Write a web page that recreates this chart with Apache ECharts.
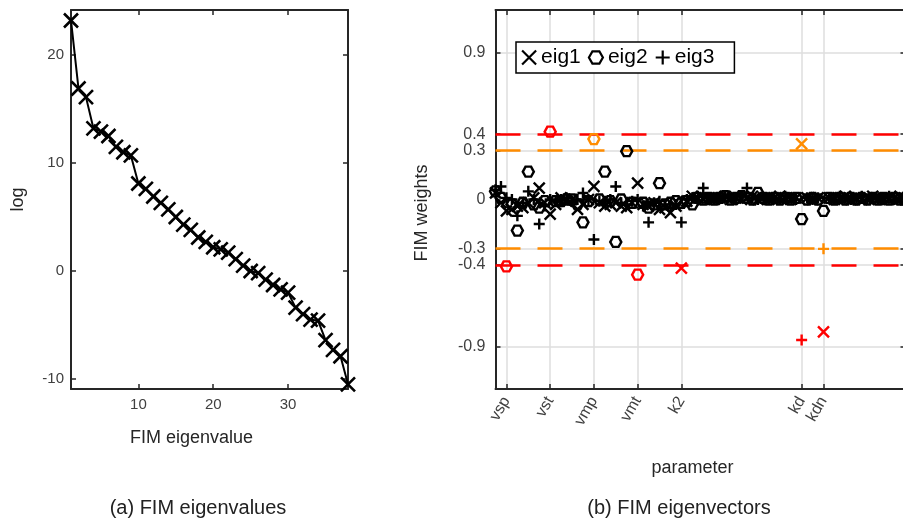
<!DOCTYPE html>
<html><head><meta charset="utf-8">
<script src="https://cdn.jsdelivr.net/npm/echarts@6/dist/echarts.min.js"></script>
<style>html,body{margin:0;padding:0;background:#fff}#c{width:903px;height:523px}</style>
</head><body><div id="c"></div>
<script>
// ---- data ----
const logEigenvalues = [23.2,16.9,16.1,13.2,12.9,12.5,11.5,11.0,10.7,8.1,7.6,6.9,6.3,5.7,5.0,4.3,3.8,3.1,2.7,2.2,2.0,1.7,1.1,0.5,0.0,-0.2,-0.8,-1.3,-1.7,-2.0,-3.4,-4.0,-4.5,-4.6,-6.4,-7.3,-7.9,-10.5];
const leftXTicks = [10,20,30];
const leftYTicks = [-10,0,10,20];

const paramNames = ['vsp','vst','vmp','vmt','k2','kd','kdn'];
const paramTickIdx = [3,11,19,27,35,57,61];
const rightYTicks = [-0.9,-0.4,-0.3,0,0.3,0.4,0.9];
const thresholdLines = [0.4,0.3,-0.3,-0.4];

const eig1 = [0.04,-0.02,-0.07,-0.06,-0.04,-0.05,-0.02,0.01,0.07,-0.02,
  -0.09,-0.03,0.01,-0.01,0.00,-0.06,-0.03,0.00,0.08,-0.02,
  -0.04,-0.03,-0.02,-0.04,-0.05,-0.02,0.10,-0.03,-0.04,-0.02,
  -0.06,-0.05,-0.08,-0.04,-0.42,-0.01,0.02,0.01,0.00,0.01,
  0.00,0.01,0.02,0.00,0.01,0.00,0.01,0.02,0.00,0.01,
  0.00,0.01,0.02,0.01,0.00,0.01,0.34,0.01,0.00,0.01,
  -0.81,0.01,0.00,0.01,0.02,0.00,0.01,0.00,0.01,0.02,
  0.00,0.01,0.00,0.01,0.02,0.00];
const eig2 = [0.05,0.01,-0.41,-0.03,-0.19,-0.02,0.17,-0.03,-0.05,-0.01,
  0.415,-0.01,-0.01,0.00,0.00,-0.03,-0.14,-0.01,0.37,0.00,
  0.17,-0.01,-0.26,0.00,0.296,-0.02,-0.46,-0.02,-0.05,-0.03,
  0.10,-0.03,-0.02,-0.01,-0.02,-0.01,-0.03,0.01,0.00,0.01,
  0.00,0.01,0.02,0.00,0.01,0.02,0.01,0.00,0.04,0.01,
  0.00,0.01,0.00,0.01,0.00,0.01,-0.12,0.00,0.01,0.00,
  -0.07,0.01,0.00,0.01,0.00,0.01,0.00,0.01,0.00,0.01,
  0.00,0.01,0.00,0.01,0.00,0.01];
const eig3 = [0.06,0.08,0.01,0.00,-0.10,-0.02,0.05,0.00,-0.15,-0.04,
  0.00,-0.01,0.00,0.01,-0.01,0.00,0.04,0.00,-0.245,-0.01,
  -0.01,0.00,0.08,-0.02,-0.03,-0.01,0.00,-0.04,-0.14,-0.02,
  -0.01,-0.03,-0.05,-0.03,-0.14,0.00,0.01,0.02,0.07,0.01,
  0.00,0.01,0.02,0.01,0.00,0.02,0.07,0.01,0.00,0.01,
  0.00,0.01,0.00,0.02,0.01,0.00,-0.86,0.01,0.00,0.01,
  -0.302,0.01,0.00,0.02,0.01,0.00,0.01,0.02,0.00,0.01,
  0.00,0.01,0.02,0.00,0.01,-0.03];

// ---- style ----
const FONT = '"Liberation Sans", Arial, Helvetica, sans-serif';
const AX = '#262626', LBL = '#404040', GRIDC = '#dedede', ORANGE = '#ff8c00', RED = '#ff0000';
const crossPath = 'path://M0,0L10,10M10,0L0,10';
const plusPath = 'path://M5,0L5,10M0,5L10,5';
const hexPath = 'path://M0,5L2.5,0.67L7.5,0.67L10,5L7.5,9.33L2.5,9.33Z';
const NONE = 'rgba(0,0,0,0)';

function colorFor(v){ const a = Math.abs(v); return a > 0.4 ? RED : (a > 0.3 ? ORANGE : '#000'); }
function pts(arr){ return arr.map((v,i)=>({value:[i+1, v], itemStyle:{borderColor: colorFor(v)}})); }

const LX = {min:1, max:logEigenvalues.length};
const LY = {min:-10.93, max:24.17};
const RX = {min:1, max:eig1.length};
const RY = {min:-1.16, max:1.16};

const tickCommon = {inside:true, length:5, lineStyle:{color:AX, width:1.5}};
const lineCommon = {show:true, onZero:false, lineStyle:{color:AX, width:2}};

const chart = echarts.init(document.getElementById('c'), null, {renderer:'canvas'});
chart.setOption({
  animation:false,
  backgroundColor:'#fff',
  textStyle:{fontFamily:FONT},
  grid:[
    {left:71, top:10, width:277, height:379, outerBoundsMode:'none'},
    {left:495.5, top:10, width:410, height:379, outerBoundsMode:'none'}
  ],
  legend:{
    data:['eig1','eig2','eig3'], selectedMode:false, orient:'horizontal',
    left:516, top:42, padding:[5,20,5,5], itemGap:7, itemWidth:14, itemHeight:14,
    backgroundColor:'#fff', borderColor:'#000', borderWidth:1.5,
    itemStyle:{borderWidth:2.2},
    textStyle:{fontSize:21, color:'#000', fontFamily:FONT}
  },
  xAxis:[
    {gridIndex:0, type:'value', ...LX, position:'bottom',
      name:'FIM eigenvalue', nameLocation:'middle', nameGap:40,
      nameTextStyle:{fontSize:18, color:AX, padding:[0,36,0,0]},
      axisLine:lineCommon, axisTick:{...tickCommon, customValues:leftXTicks},
      axisLabel:{customValues:leftXTicks, fontSize:15, color:LBL, margin:8},
      splitLine:{show:false}},
    {gridIndex:0, type:'value', ...LX, position:'top',
      axisLine:lineCommon, axisTick:{...tickCommon, customValues:leftXTicks},
      axisLabel:{show:false}, splitLine:{show:false}},
    {gridIndex:1, type:'value', ...RX, position:'bottom',
      name:'parameter', nameLocation:'middle', nameGap:70,
      nameTextStyle:{fontSize:18, color:AX, padding:[0,16,0,0]},
      axisLine:lineCommon, axisTick:{...tickCommon, customValues:paramTickIdx},
      axisLabel:{customValues:paramTickIdx, rotate:60, fontSize:16, color:LBL, margin:9,
        formatter:(v)=>{const k=paramTickIdx.indexOf(v); return k>=0?paramNames[k]:'';}},
      splitLine:{show:true, lineStyle:{color:GRIDC, width:1.5}}},
    {gridIndex:1, type:'value', ...RX, position:'top',
      axisLine:lineCommon, axisTick:{...tickCommon, customValues:paramTickIdx},
      axisLabel:{show:false}, splitLine:{show:false}}
  ],
  yAxis:[
    {gridIndex:0, type:'value', ...LY, position:'left',
      name:'log', nameLocation:'middle', nameGap:44,
      nameTextStyle:{fontSize:18, color:AX},
      axisLine:lineCommon, axisTick:{...tickCommon, customValues:leftYTicks},
      axisLabel:{customValues:leftYTicks, fontSize:15, color:LBL, margin:7},
      splitLine:{show:false}},
    {gridIndex:0, type:'value', ...LY, position:'right',
      axisLine:lineCommon, axisTick:{...tickCommon, customValues:leftYTicks},
      axisLabel:{show:false}, splitLine:{show:false}},
    {gridIndex:1, type:'value', ...RY, position:'left',
      name:'FIM weights', nameLocation:'middle', nameGap:64,
      nameTextStyle:{fontSize:18, color:AX, padding:[0,27,0,0]},
      axisLine:lineCommon, axisTick:{...tickCommon, customValues:rightYTicks},
      axisLabel:{customValues:rightYTicks, fontSize:16, color:LBL, margin:10},
      splitLine:{show:true, lineStyle:{color:GRIDC, width:1.5}}},
    {gridIndex:1, type:'value', ...RY, position:'right',
      axisLine:lineCommon, axisTick:{...tickCommon, customValues:rightYTicks},
      axisLabel:{show:false}, splitLine:{show:false}}
  ],
  series:[
    {type:'line', name:'logeig', xAxisIndex:0, yAxisIndex:0, clip:false,
      data:logEigenvalues.map((v,i)=>[i+1,v]),
      symbol:crossPath, symbolSize:14,
      lineStyle:{color:'#000', width:2},
      itemStyle:{color:NONE, borderColor:'#000', borderWidth:2.6},
      emphasis:{disabled:true}, z:3},
    {type:'scatter', name:'eig1', xAxisIndex:2, yAxisIndex:2, clip:false,
      data:pts(eig1), symbol:crossPath, symbolSize:11,
      itemStyle:{color:NONE, borderColor:'#000', borderWidth:2.4, opacity:1},
      emphasis:{disabled:true}, z:4,
      markLine:{silent:true, symbol:['none','none'], label:{show:false}, z:2,
        emphasis:{disabled:true},
        data:thresholdLines.map(v=>({yAxis:v, lineStyle:{color:Math.abs(v)>0.35?RED:ORANGE, width:2.5, type:[25,17]}}))}},
    {type:'scatter', name:'eig2', xAxisIndex:2, yAxisIndex:2, clip:false,
      data:pts(eig2), symbol:hexPath, symbolSize:[11,10],
      itemStyle:{color:NONE, borderColor:'#000', borderWidth:2.4, opacity:1},
      emphasis:{disabled:true}, z:4},
    {type:'scatter', name:'eig3', xAxisIndex:2, yAxisIndex:2, clip:false,
      data:pts(eig3), symbol:plusPath, symbolSize:11,
      itemStyle:{color:NONE, borderColor:'#000', borderWidth:2.4, opacity:1},
      emphasis:{disabled:true}, z:4}
  ],
  graphic:[
    {type:'text', x:198, y:508, style:{text:'(a) FIM eigenvalues', fontSize:20, fill:'#222', fontFamily:FONT, align:'center', verticalAlign:'middle'}},
    {type:'text', x:679, y:508, style:{text:'(b) FIM eigenvectors', fontSize:20, fill:'#222', fontFamily:FONT, align:'center', verticalAlign:'middle'}}
  ]
});
</script></body></html>
